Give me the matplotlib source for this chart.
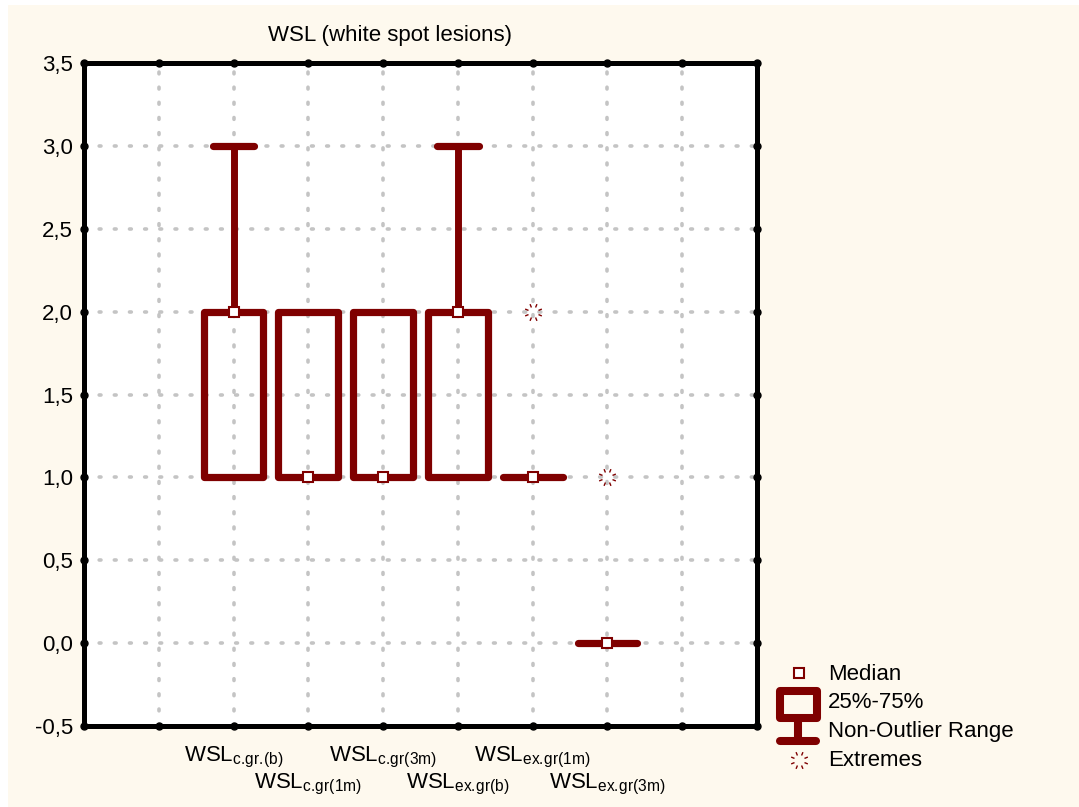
import numpy as np
import matplotlib
matplotlib.use("Agg")
import matplotlib.pyplot as plt
from matplotlib.patches import Rectangle
from matplotlib.path import Path
import matplotlib.transforms as mtransforms

plt.rcParams['font.family'] = ['Liberation Sans', 'DejaVu Sans']
plt.rcParams['mathtext.fontset'] = 'custom'
plt.rcParams['mathtext.rm'] = 'Liberation Sans'
plt.rcParams['mathtext.it'] = 'Liberation Sans'

# ---- data ----
positions = [1, 2, 3, 4, 5, 6]
labels = [r'$\mathregular{WSL_{c.\!gr.\!(b)}}$', r'$\mathregular{WSL_{c.\!gr(1m)}}$',
          r'$\mathregular{WSL_{c.\!gr(3m)}}$', r'$\mathregular{WSL_{ex.\!gr(b)}}$',
          r'$\mathregular{WSL_{ex.\!gr(1m)}}$', r'$\mathregular{WSL_{ex.\!gr(3m)}}$']
median = [2, 1, 1, 2, 1, 0]
q25 = [1, 1, 1, 1, 1, 0]
q75 = [2, 2, 2, 2, 1, 0]
whisk_lo = [1, 1, 1, 1, 1, 0]
whisk_hi = [3, 2, 2, 3, 1, 0]
extreme_x = [5, 6]
extreme_y = [2, 1]

yticks = [-0.5, 0.0, 0.5, 1.0, 1.5, 2.0, 2.5, 3.0, 3.5]
ytick_labels = ['-0,5', '0,0', '0,5', '1,0', '1,5', '2,0', '2,5', '3,0', '3,5']
xgrid = [0, 1, 2, 3, 4, 5, 6, 7]

RED = '#7f0000'
CREAM = '#fef9ee'
W, H = 1079, 807
FS = 16

fig = plt.figure(figsize=(W / 100, H / 100), dpi=100, facecolor='white')
fig.add_artist(Rectangle((8 / W, 0), 1 - 8 / W, 1 - 5 / H, transform=fig.transFigure,
                         facecolor=CREAM, edgecolor='none', zorder=-10))

ax = fig.add_axes([84 / W, 1 - 726 / H, (757 - 84) / W, (726 - 63) / H])
ax.set_facecolor('white')
ax.set_xlim(-1, 8)
ax.set_ylim(-0.5, 3.5)

# grid
for gx in xgrid:
    ax.axvline(gx, color='#c4c4c4', lw=2.6, ls=(0, (0.5, 3.7)), dash_capstyle='round', zorder=1)
for gy in yticks:
    ax.axhline(gy, color='#c4c4c4', lw=2.6, ls=(0, (0.5, 3.7)), dash_capstyle='round', zorder=1)

# boxes
bw = 0.8
cw = 0.56
for i, p in enumerate(positions):
    if whisk_hi[i] > q75[i]:
        ax.plot([p, p], [q75[i], whisk_hi[i]], color=RED, lw=5, solid_capstyle='butt', zorder=3)
        ax.plot([p - cw / 2, p + cw / 2], [whisk_hi[i], whisk_hi[i]], color=RED, lw=5.2,
                solid_capstyle='round', zorder=3)
    if whisk_lo[i] < q25[i]:
        ax.plot([p, p], [whisk_lo[i], q25[i]], color=RED, lw=5, solid_capstyle='butt', zorder=3)
        ax.plot([p - cw / 2, p + cw / 2], [whisk_lo[i], whisk_lo[i]], color=RED, lw=5.2,
                solid_capstyle='round', zorder=3)
    if q75[i] > q25[i]:
        ax.add_patch(Rectangle((p - bw / 2, q25[i]), bw, q75[i] - q25[i], facecolor='none',
                               edgecolor=RED, lw=5.2, joinstyle='round', zorder=4))
    else:
        ax.plot([p - bw / 2, p + bw / 2], [q25[i], q25[i]], color=RED, lw=5.2,
                solid_capstyle='round', zorder=4)
    ax.plot(p, median[i], marker='s', ms=7.5, mfc='white', mec=RED, mew=1.5, zorder=5)

# extremes marker: radial dashes
ang = np.linspace(0, 2 * np.pi, 8, endpoint=False) + np.pi / 8
verts, codes = [], []
for a in ang:
    verts += [(0.6 * np.cos(a), 0.6 * np.sin(a)), (np.cos(a), np.sin(a))]
    codes += [Path.MOVETO, Path.LINETO]
star = Path(verts, codes)
ax.plot(extreme_x, extreme_y, ls='none', marker=star, ms=12, mfc='none', mec=RED, mew=1.0, zorder=5)

# spines and ticks
for s in ax.spines.values():
    s.set_linewidth(3.6)
    s.set_color('black')
    s.set_capstyle('projecting')
ax.set_xticks([])
ax.set_yticks(yticks)
ax.set_yticklabels(ytick_labels, fontsize=FS)
ax.tick_params(axis='y', length=0, pad=8)
ax.tick_params(axis='x', length=0)

# tick dots on spines
bt = mtransforms.blended_transform_factory(ax.transData, ax.transAxes)
lt = mtransforms.blended_transform_factory(ax.transAxes, ax.transData)
ax.plot(xgrid, [0] * len(xgrid), 'o', color='black', ms=5, transform=bt, clip_on=False, zorder=6)
ax.plot(xgrid, [1] * len(xgrid), 'o', color='black', ms=5, transform=bt, clip_on=False, zorder=6)
ax.plot([0] * len(yticks), yticks, 'o', color='black', ms=5, transform=lt, clip_on=False, zorder=6)
ax.plot([1] * len(yticks), yticks, 'o', color='black', ms=5, transform=lt, clip_on=False, zorder=6)

# x labels (staggered)
for i, p in enumerate(positions):
    ypx = 745 if i % 2 == 0 else 772
    ax.text(p, 1 - (ypx - 63) / (726 - 63), labels[i], transform=bt, ha='center', va='top',
            fontsize=FS)

fig.text(390 / W, 1 - 36 / H, 'WSL (white spot lesions)', ha='center', va='center', fontsize=FS)

# legend (drawn in pixel coords)
lax = fig.add_axes([0, 0, 1, 1], zorder=10)
lax.set_xlim(0, W)
lax.set_ylim(H, 0)
lax.axis('off')
lax.plot(799, 673, marker='s', ms=7.5, mfc='white', mec=RED, mew=1.5)
lax.add_patch(Rectangle((779.5, 690.5), 37, 27, facecolor='none', edgecolor=RED, lw=5.8, joinstyle='round'))
lax.plot([798, 798], [717, 741], color=RED, lw=5.8, solid_capstyle='butt')
lax.plot([780, 816], [741, 741], color=RED, lw=5.8, solid_capstyle='round')
lax.plot(799, 760, marker=star, ms=12, mfc='none', mec=RED, mew=1.0)
for txt, ty in zip(['Median', '25%-75%', 'Non-Outlier Range', 'Extremes'], [674, 703, 732, 761]):
    lax.text(828, ty, txt, ha='left', va='center', fontsize=FS)

fig.savefig('out.png', dpi=100, facecolor=fig.get_facecolor())
